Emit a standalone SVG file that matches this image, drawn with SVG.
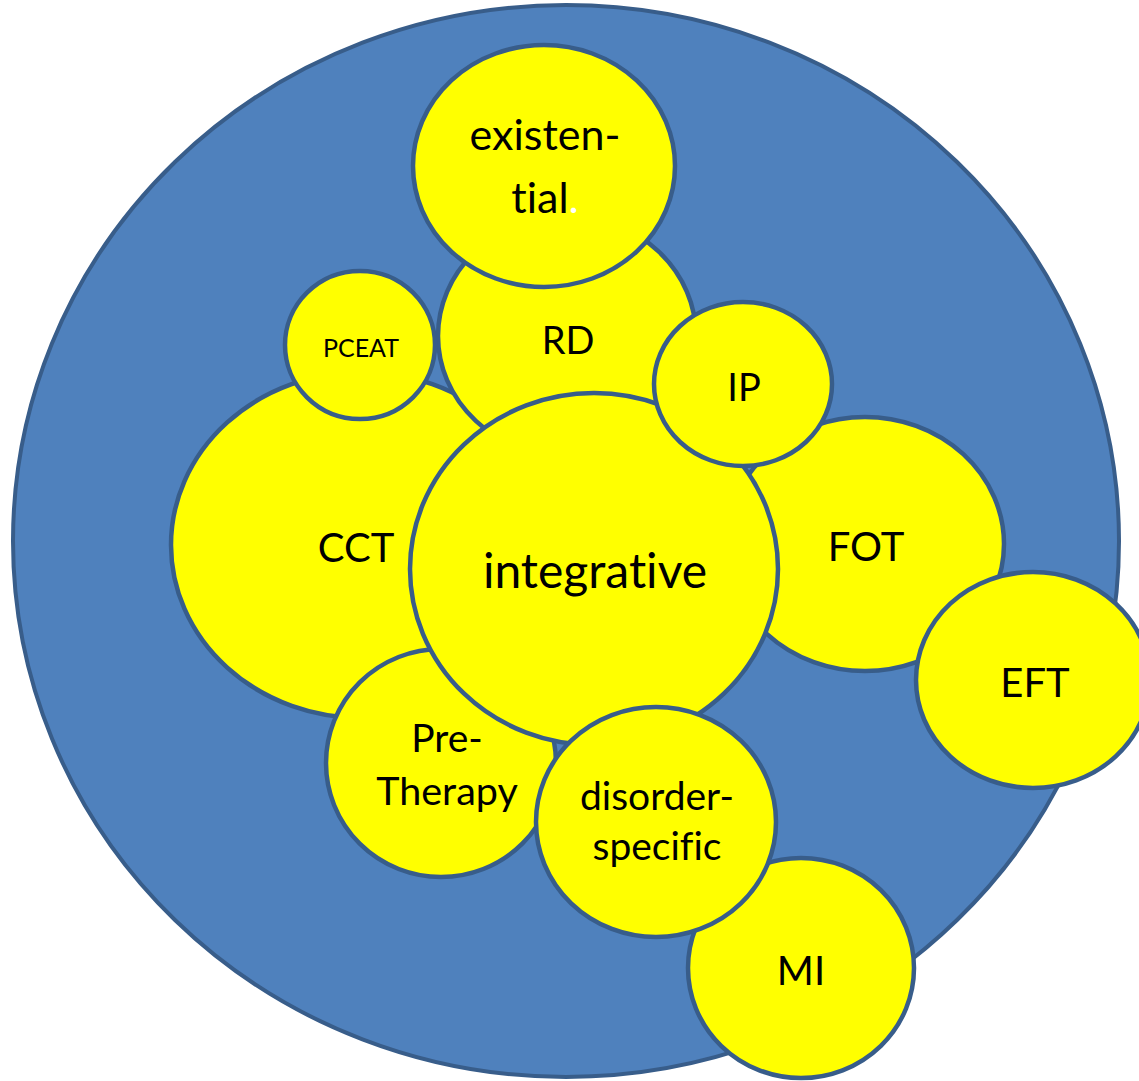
<svg xmlns="http://www.w3.org/2000/svg" width="1139" height="1081" viewBox="0 0 1139 1081">
<style>
.bg{fill:#4f81bd;stroke:#385d8a;stroke-width:4}
.n{fill:#ffff00;stroke:#385d8a;stroke-width:4.5}
text{font-family:Lato,"Liberation Sans",sans-serif;fill:#000;text-anchor:middle;font-variant-ligatures:none}
</style>
<rect width="1139" height="1081" fill="#ffffff"/>
<g id="outer"><ellipse class="bg" cx="566" cy="541" rx="553" ry="536"/></g>
<g id="connectors"></g>
<g id="cct"><ellipse class="n" cx="362" cy="545" rx="191" ry="173"/><text x="356" y="562" font-size="40">CCT</text></g>
<g id="rd"><ellipse class="n" cx="567" cy="336" rx="129" ry="120"/><text x="568" y="354" font-size="38">RD</text></g>
<g id="pceat"><ellipse class="n" cx="360" cy="345" rx="75" ry="74"/><text x="361" y="357" font-size="25">PCEAT</text></g>
<g id="existential"><ellipse class="n" cx="544" cy="166" rx="131" ry="121"/><text x="545" y="150" font-size="43">existen-</text><text x="545" y="213" font-size="43">tial<tspan fill="#ffffff">.</tspan></text></g>
<g id="fot"><ellipse class="n" cx="865" cy="544" rx="139" ry="127"/><text x="866" y="561" font-size="40">FOT</text></g>
<g id="pretherapy"><ellipse class="n" cx="441" cy="763" rx="115" ry="114"/><text x="447" y="752" font-size="39">Pre-</text><text x="447" y="805" font-size="39.5">Therapy</text></g>
<g id="integrative"><ellipse class="n" cx="594" cy="569" rx="184" ry="176"/><text x="595" y="588" font-size="48">integrative</text></g>
<g id="ip"><ellipse class="n" cx="743" cy="384" rx="89" ry="82"/><text x="744" y="401" font-size="38">IP</text></g>
<g id="eft"><ellipse class="n" cx="1033" cy="680" rx="117" ry="108"/><text x="1035" y="697" font-size="40">EFT</text></g>
<g id="mi"><ellipse class="n" cx="801" cy="968" rx="113" ry="110"/><text x="801" y="985" font-size="40">MI</text></g>
<g id="disorder"><ellipse class="n" cx="656" cy="822" rx="120" ry="115"/><text x="657" y="810" font-size="39">disorder-</text><text x="657" y="860" font-size="39">specific</text></g>
</svg>
